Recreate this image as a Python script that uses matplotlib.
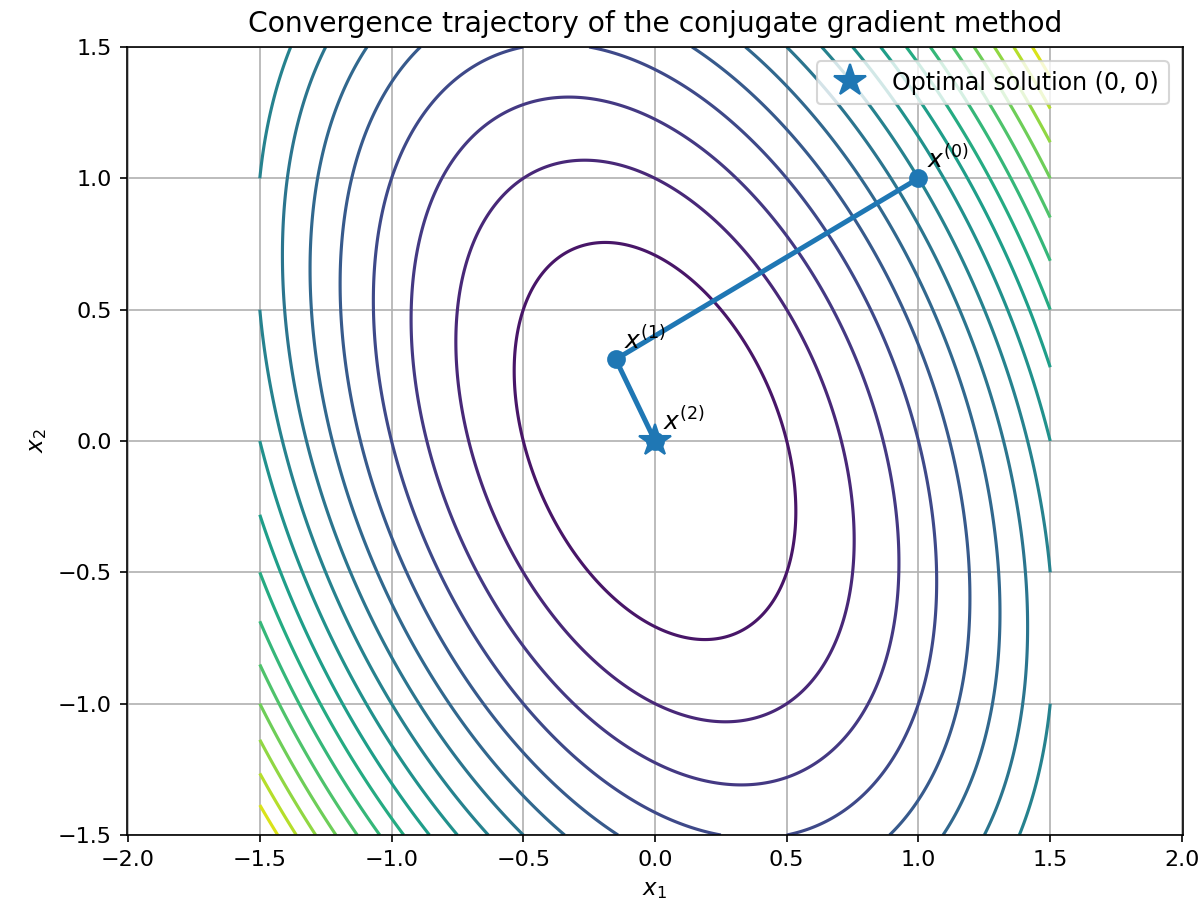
import numpy as np
import matplotlib
matplotlib.use("Agg")
import matplotlib.pyplot as plt

# Quadratic f(x) = 0.5 x^T A x
A = [[4.0, 1.0], [1.0, 2.0]]
grid_range = [-1.5, 1.5]
n_levels = 20

# Conjugate-gradient iterates
iter_x1 = [1.0, -0.149, 0.0]
iter_x2 = [1.0, 0.311, 0.0]
iter_labels = [r"$x^{(0)}$", r"$x^{(1)}$", r"$x^{(2)}$"]
optimum = [0.0, 0.0]

W, H, DPI = 1201, 908, 150
fig = plt.figure(figsize=(W / DPI, H / DPI), dpi=DPI)
L, R, T, B = 126.5, 1183, 47, 835
ax = fig.add_axes([L / W, 1 - B / H, (R - L) / W, (B - T) / H])

g = np.linspace(grid_range[0], grid_range[1], 400)
X1, X2 = np.meshgrid(g, g)
Am = np.array(A)
Z = 0.5 * (Am[0, 0] * X1**2 + 2 * Am[0, 1] * X1 * X2 + Am[1, 1] * X2**2)
ax.contour(X1, X2, Z, levels=n_levels, cmap="viridis")

ax.plot(iter_x1, iter_x2, "o-", color="C0", linewidth=2.4, markersize=8)
ax.plot(optimum[0], optimum[1], "*", color="C0", markersize=16,
        label="Optimal solution (0, 0)")
for xx, yy, lab in zip(iter_x1, iter_x2, iter_labels):
    ax.annotate(lab, (xx, yy), textcoords="offset points", xytext=(4, 5), fontsize=12)

ax.set_xlim(-2.006, 2.004)
ax.set_ylim(-1.5, 1.5)
ax.set_xticks(np.arange(-2.0, 2.01, 0.5))
ax.set_yticks(np.arange(-1.5, 1.51, 0.5))
ax.tick_params(labelsize=10.7)
ax.grid(True)
ax.set_xlabel(r"$x_1$", fontsize=11)
ax.set_ylabel(r"$x_2$", fontsize=11)
ax.set_title("Convergence trajectory of the conjugate gradient method", fontsize=13.5, pad=7)
ax.legend(loc="upper right", fontsize=11.4, borderaxespad=0.6)

fig.savefig("out.png", dpi=DPI)
